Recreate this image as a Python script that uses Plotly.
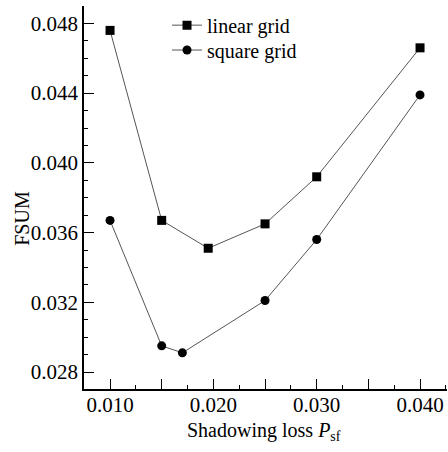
import plotly.graph_objects as go

x_linear = [0.010, 0.015, 0.0195, 0.025, 0.030, 0.040]
y_linear = [0.0476, 0.0367, 0.0351, 0.0365, 0.0392, 0.0466]
x_square = [0.010, 0.015, 0.017, 0.025, 0.030, 0.040]
y_square = [0.0367, 0.0295, 0.0291, 0.0321, 0.0356, 0.0439]

x_tickvals = [0.010, 0.015, 0.020, 0.025, 0.030, 0.035, 0.040]
x_ticktext = ["0.010", " ", "0.020", " ", "0.030", " ", "0.040"]
y_tickvals = [0.028, 0.032, 0.036, 0.040, 0.044, 0.048]
y_ticktext = ["0.028", "0.032", "0.036", "0.040", "0.044", "0.048"]

FONT = "Liberation Serif, Times New Roman, serif"

fig = go.Figure()
fig.add_trace(go.Scatter(
    x=x_linear, y=y_linear, name="linear grid", mode="lines+markers",
    line=dict(color="#555555", width=1),
    marker=dict(symbol="square", size=9, color="black"),
    legend="legend",
))
fig.add_trace(go.Scatter(
    x=x_square, y=y_square, name="square grid", mode="lines+markers",
    line=dict(color="#555555", width=1),
    marker=dict(symbol="circle", size=9, color="black"),
    legend="legend2",
))

leg_common = dict(xanchor="left", yanchor="middle", bgcolor="rgba(0,0,0,0)",
                  font=dict(family=FONT, size=20), itemwidth=30)

fig.update_layout(
    template="none",
    width=448, height=452,
    margin=dict(l=84, r=1, t=6, b=63),
    plot_bgcolor="white", paper_bgcolor="white",
    font=dict(family=FONT, size=21, color="black"),
    showlegend=True,
    legend=dict(x=0.2287, y=0.950, **leg_common),
    legend2=dict(x=0.2287, y=0.885, **leg_common),
    xaxis=dict(
        automargin=False,
        range=[0.00748, 0.04261], showgrid=False, zeroline=False,
        showline=True, linecolor="black", linewidth=1.5,
        tickmode="array", tickvals=x_tickvals, ticktext=x_ticktext,
        ticks="inside", ticklen=10, tickwidth=1.2, tickcolor="black",
        tickfont=dict(family=FONT, size=21), ticklabelstandoff=-4,
        minor=dict(dtick=0.0025, tick0=0.0075, ticks="inside", ticklen=4,
                   tickwidth=1.2, tickcolor="black"),
    ),
    yaxis=dict(
        automargin=False,
        range=[0.027025, 0.049], showgrid=False, zeroline=False,
        showline=True, linecolor="black", linewidth=1.5,
        tickmode="array", tickvals=y_tickvals, ticktext=y_ticktext,
        ticks="inside", ticklen=10, tickwidth=1.2, tickcolor="black",
        tickfont=dict(family=FONT, size=21),
        minor=dict(dtick=0.001, tick0=0.027, ticks="inside", ticklen=4,
                   tickwidth=1.2, tickcolor="black"),
    ),
    annotations=[
        dict(text="FSUM", x=-0.205, y=0.446, xref="paper", yref="paper",
             textangle=-90, showarrow=False, font=dict(family=FONT, size=20)),
        dict(text="Shadowing loss <i>P</i><sub>sf</sub>", x=0.496, y=-0.112,
             xref="paper", yref="paper", xanchor="center", yanchor="middle",
             showarrow=False, font=dict(family=FONT, size=20)),
    ],
)

fig.write_html("out.html", config={"displayModeBar": False},
               post_script="document.body.style.margin='0';document.body.style.overflow='hidden';")
